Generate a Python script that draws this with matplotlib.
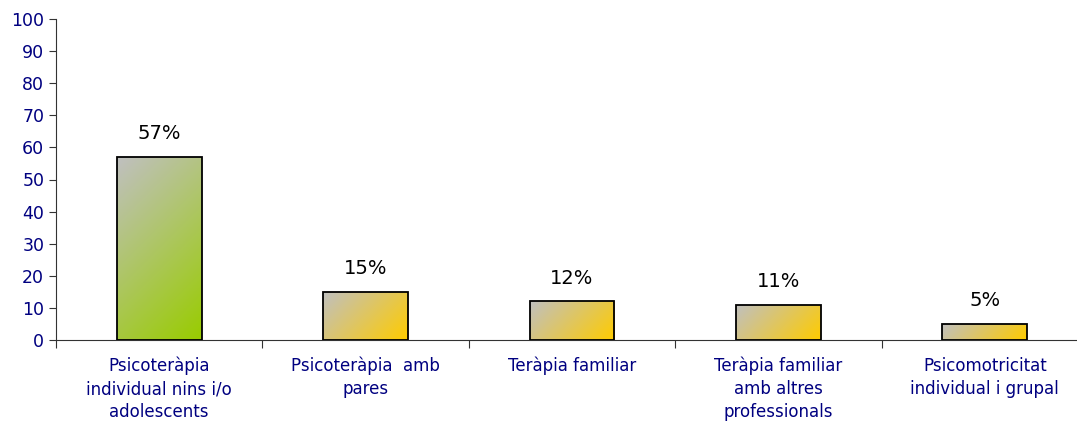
import matplotlib
matplotlib.use("Agg")
import matplotlib.pyplot as plt
import numpy as np
from matplotlib.colors import LinearSegmentedColormap

categories = [
    "Psicoteràpia\nindividual nins i/o\nadolescents",
    "Psicoteràpia  amb\npares",
    "Teràpia familiar",
    "Teràpia familiar\namb altres\nprofessionals",
    "Psicomotricitat\nindividual i grupal",
]
values = [57, 15, 12, 11, 5]
value_labels = ["57%", "15%", "12%", "11%", "5%"]
end_colors = ["#99cc00", "#ffcc00", "#ffcc00", "#ffcc00", "#ffcc00"]

navy = "#000080"

fig = plt.figure(figsize=(10.77, 4.21), dpi=100)
ax = fig.add_axes([56 / 1077, 1 - 340 / 421, 1032 / 1077, 321 / 421])
ax.set_xlim(-0.5, len(values) - 0.5)
ax.set_ylim(0, 100)

x = np.arange(len(values))
bars = ax.bar(x, values, width=0.41, facecolor="none", edgecolor="black",
              linewidth=1.3, zorder=3)

# diagonal gradient in pixel space: grey top-left -> colour bottom-right
for bar, c in zip(bars, end_colors):
    cmap = LinearSegmentedColormap.from_list("g", ["#c0c0c0", c])
    x0, w, h = bar.get_x(), bar.get_width(), bar.get_height()
    p0 = ax.transData.transform((x0, 0))
    p1 = ax.transData.transform((x0 + w, h))
    wpx, hpx = abs(p1[0] - p0[0]), abs(p1[1] - p0[1])
    xx, yy = np.meshgrid(np.linspace(0, wpx, 80), np.linspace(0, hpx, 120))
    grad = (xx + yy) / (wpx + hpx)
    im = ax.imshow(grad, cmap=cmap, extent=[x0, x0 + w, 0, h],
                   origin="upper", aspect="auto", zorder=2, vmin=0, vmax=1)
    im.set_clip_path(bar)

for xi, v, lab in zip(x, values, value_labels):
    ax.annotate(lab, (xi, v), xytext=(0, 10), textcoords="offset points",
                ha="center", va="bottom", fontsize=14, color="black")

ax.set_yticks(range(0, 101, 10))
ax.tick_params(axis="y", colors="#333333", labelcolor=navy, labelsize=12.5,
               length=5, direction="out")

ax.set_xticks(np.arange(len(values) + 1) - 0.5)
ax.set_xticklabels([])
ax.tick_params(axis="x", which="major", length=6, colors="#333333")
ax.set_xticks(x, minor=True)
ax.set_xticklabels(categories, minor=True, fontsize=12, color=navy,
                   linespacing=1.35)
ax.tick_params(axis="x", which="minor", length=0, pad=12)

for s in ["top", "right"]:
    ax.spines[s].set_visible(False)
for s in ["left", "bottom"]:
    ax.spines[s].set_color("#333333")

fig.savefig("out.png", dpi=100)
